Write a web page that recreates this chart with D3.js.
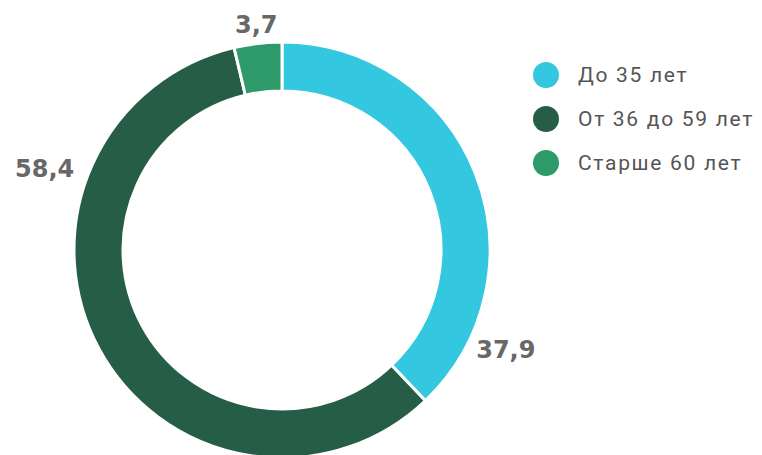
<!DOCTYPE html>
<html>
<head>
<meta charset="utf-8">
<script src="https://cdn.jsdelivr.net/npm/d3@7"></script>
<style>
  html, body { margin: 0; padding: 0; background: #ffffff; }
  svg { display: block; }
</style>
</head>
<body>
<svg id="chart" width="762" height="455"></svg>
<script>
// Age groups and their shares, %
const categories = ["До 35 лет", "От 36 до 59 лет", "Старше 60 лет"];
const values = [37.9, 58.4, 3.7];
const valueLabels = ["37,9", "58,4", "3,7"];
const colors = ["#33c7e0", "#255d47", "#2e9a69"];

// Where each value label sits: angle (degrees, clockwise from top) and distance from centre
const labelPlacement = [
  { angle: 114, radius: 245 },
  { angle: 289, radius: 251 },
  { angle: 353.5, radius: 227 }
];

const svg = d3.select("#chart");
const cx = 282, cy = 250;
const outerR = 208, innerR = 159;

const pie = d3.pie().sort(null).value(d => d.value);
const data = categories.map((c, i) => ({ name: c, value: values[i], label: valueLabels[i], color: colors[i], place: labelPlacement[i] }));
const arcs = pie(data);
const arc = d3.arc().innerRadius(innerR).outerRadius(outerR);

const g = svg.append("g").attr("transform", `translate(${cx},${cy})`);

g.selectAll("path")
  .data(arcs)
  .join("path")
  .attr("d", arc)
  .attr("fill", d => d.data.color)
  .attr("stroke", "#ffffff")
  .attr("stroke-width", 3);

g.selectAll("text.value")
  .data(arcs)
  .join("text")
  .attr("class", "value")
  .attr("transform", d => {
    const [x, y] = d3.pointRadial(d.data.place.angle * Math.PI / 180, d.data.place.radius);
    return `translate(${x},${y})`;
  })
  .attr("text-anchor", "middle")
  .attr("dy", "0.36em")
  .attr("font-family", "'DejaVu Sans', sans-serif")
  .attr("font-weight", "bold")
  .attr("font-size", 24)
  .attr("fill", "#686868")
  .text(d => d.data.label);

// Legend
const legend = svg.append("g").attr("transform", "translate(546,75)");
const item = legend.selectAll("g")
  .data(data)
  .join("g")
  .attr("transform", (d, i) => `translate(0,${i * 44})`);

item.append("circle")
  .attr("r", 13)
  .attr("fill", d => d.color);

item.append("text")
  .attr("x", 32)
  .attr("dy", "0.35em")
  .attr("font-family", "Roboto, sans-serif")
  .attr("font-size", 21)
  .attr("letter-spacing", 1.7)
  .attr("fill", "#555555")
  .text(d => d.name);
</script>
</body>
</html>
